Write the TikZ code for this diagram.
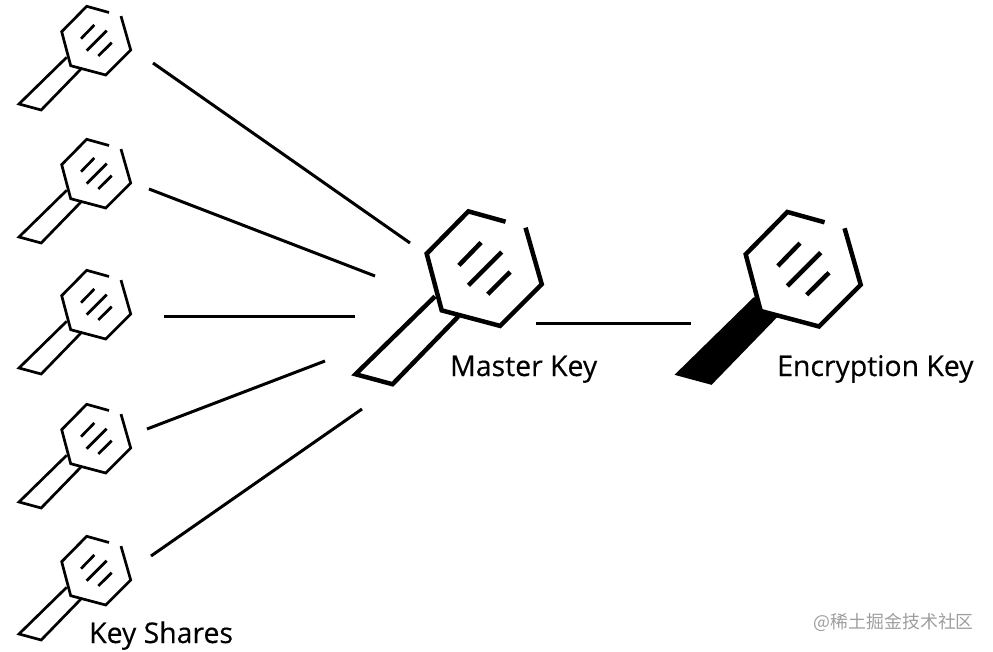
\documentclass[tikz,border=0pt]{standalone}
\usepackage{fontspec}
\setmainfont[FakeBold=0.35]{Open Sans}
\newfontfamily\cjk{Noto Sans CJK SC}
\usetikzlibrary{positioning}
\tikzstyle{link} = [line width=3pt]
\tikzstyle{keylabel} = [inner sep=0pt, anchor=base west, font=\fontsize{28.4}{30}\selectfont]
\tikzset{
    keyicon/.pic={
        % handle first, the head then covers its upper end
        \draw[pic actions, miter limit=10] (5,25.6) -- (-42.7,72.3) -- (-20.5,78.3) -- (19,37.6);
        \filldraw[fill=white, line join=miter] (47.3,-19.2) -- (25,-25.4) -- (0,0) -- (9,34) -- (44,43.3) -- (69,18.3) -- (59.3,-15.6);
        \draw (19.3,7) -- (32.6,-6.7);
        \draw (25,19) -- (45,-1);
        \draw (36.6,24.3) -- (50,11);
    }
}

\begin{document}
\begin{tikzpicture}[x=1pt, y=-1pt]
    \useasboundingbox (0,0) rectangle (993,652);

    % key shares
    \pic (share1) [line width=2.7pt] at (61.7,31.7) {keyicon};
    \pic (share2) [line width=2.7pt] at (61.7,164.7) {keyicon};
    \pic (share3) [line width=2.7pt] at (61.7,295.7) {keyicon};
    \pic (share4) [line width=2.7pt] at (61.7,429.7) {keyicon};
    \pic (share5) [line width=2.7pt] at (61.7,561.7) {keyicon};

    % the two big keys
    \pic (master) [scale=1.667, line width=4.5pt] at (426.7,253.7) {keyicon};
    \pic (encryption) [scale=1.667, line width=4.5pt, fill=black, draw=none] at (745.7,254.3) {keyicon};

    \node (sharest) [keylabel] at (89,643) {Key Shares};
    \node (mastert) [keylabel] at (450,376) {Master Key};
    \node (encryptiont) [keylabel] at (777,376) {Encryption Key};
    \node (mark) [inner sep=0pt, anchor=base east, text=black!38, font=\fontsize{17.9}{20}\selectfont\cjk] at (974,628) {@稀土掘金技术社区};

    % free ends of the lines
    \coordinate (s1) at (153,63);
    \coordinate (s2) at (149,189);
    \coordinate (s3) at (164,316.5);
    \coordinate (s4) at (147,429);
    \coordinate (s5) at (151,556);
    \coordinate (m1) at (410,243);
    \coordinate (m2) at (375,276);
    \coordinate (m3) at (355,316.5);
    \coordinate (m4) at (325,361);
    \coordinate (m5) at (362,409);
    \coordinate (mo) at (536,323);
    \coordinate (eo) at (691,323);

    \draw[link] (s1) -- (m1);
    \draw[link] (s2) -- (m2);
    \draw[link] (s3) -- (m3);
    \draw[link] (s4) -- (m4);
    \draw[link] (s5) -- (m5);
    \draw[link] (mo) -- (eo);

\end{tikzpicture}
\end{document}
